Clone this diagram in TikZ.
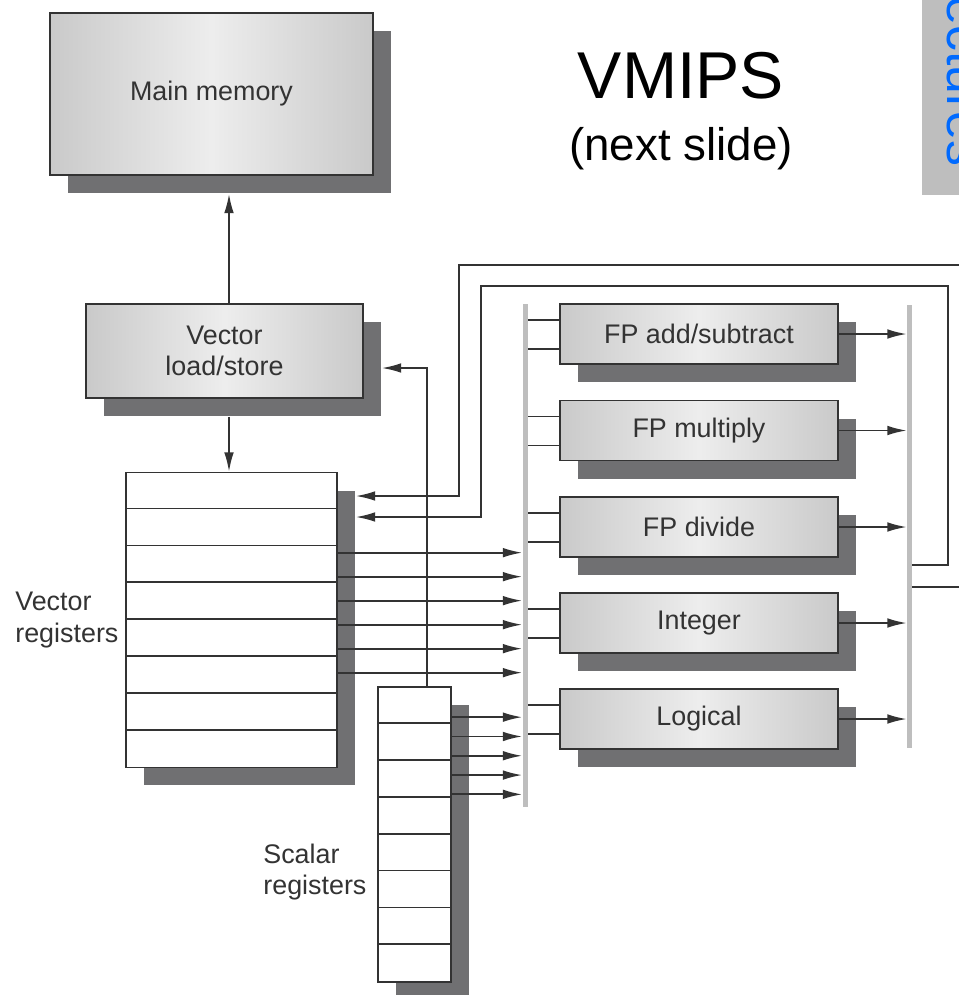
\documentclass[tikz,border=0pt]{standalone}
\usepackage{fontspec}
\setmainfont{Liberation Sans}
\usetikzlibrary{arrows.meta,positioning,shadows,calc}
\definecolor{shadowgray}{RGB}{112,112,114}
\definecolor{linegray}{RGB}{51,51,51}
\definecolor{busgray}{RGB}{190,190,190}
\definecolor{slideblue}{RGB}{0,106,255}

\begin{document}
\begin{tikzpicture}[x={(0.02cm,0)},y={(0,-0.02cm)}]
\tikzset{unit/.style = {draw=linegray,line width=1pt,left color=black!21,right color=black!21,middle color=black!7,
  text=linegray,font=\fontsize{15.3}{18}\selectfont,align=center,inner sep=0,
  drop shadow={shadow xshift=.36cm,shadow yshift=-.36cm,fill=shadowgray,opacity=1}}}
\tikzset{regfile/.style = {draw=linegray,line width=1pt,fill=white,inner sep=0,
  drop shadow={shadow xshift=.36cm,shadow yshift=-.36cm,fill=shadowgray,opacity=1}}}
\tikzset{bus/.style = {fill=busgray,inner sep=0,minimum width=.1cm}}
\tikzset{lbl/.style = {text=linegray,font=\fontsize{15.3}{18}\selectfont,align=left,inner sep=0,anchor=west}}
\tikzset{wire/.style = {draw=linegray,line width=1pt}}
\tikzset{edge/.style = {wire,-{Latex[length=11pt,width=5.5pt]}}}
\useasboundingbox (0,0) rectangle (958,995);
% SLIDE
\fill[busgray] (922,0) rectangle (975,195);
\node[rotate=-90,anchor=base east,inner sep=0,text=slideblue,font=\fontsize{29.5}{30}\selectfont] (sidetitle) at (947,167) {Architectures};
\node[font=\fontsize{37.7}{40}\selectfont] (title) at (681,76) {VMIPS};
\node[font=\fontsize{26}{28}\selectfont] (subtitle) at (681,149) {(next slide)};
% NODES
\node[unit,minimum width=6.46cm,minimum height=3.24cm] (mainmem) at (211.5,94) {Main memory};
\node[unit,minimum width=5.54cm,minimum height=1.88cm] (vls) at (224.5,351) {Vector\\load/store};
\node[regfile,minimum width=4.22cm,minimum height=5.9cm] (vreg) at (231.5,620) {};
\node[regfile,minimum width=1.46cm,minimum height=5.9cm] (sreg) at (414.5,834.5) {};
\node[lbl] (vreglbl) at (15,620) {Vector\\registers};
\node[lbl] (sreglbl) at (263,872) {Scalar\\registers};
\node[bus,minimum height=10.06cm] (lbus) at (525,555.5) {};
\node[bus,minimum height=8.86cm] (rbus) at (909.5,526.5) {};
\node[unit,minimum width=5.56cm,minimum height=1.2cm] (fpadd) at (699,334) {FP add/subtract};
\node[unit,minimum width=5.56cm,minimum height=1.2cm] (fpmul) at (699,430.5) {FP multiply};
\node[unit,minimum width=5.56cm,minimum height=1.2cm] (fpdiv) at (699,527) {FP divide};
\node[unit,minimum width=5.56cm,minimum height=1.2cm] (intu) at (699,623) {Integer};
\node[unit,minimum width=5.56cm,minimum height=1.2cm] (logic) at (699,719) {Logical};
% REGISTER ROWS
\foreach \i in {1,...,7}{
  \draw[wire] ($(vreg.north west)+(0,\i*36.875)$) -- ($(vreg.north east)+(0,\i*36.875)$);
  \draw[wire] ($(sreg.north west)+(0,\i*36.875)$) -- ($(sreg.north east)+(0,\i*36.875)$);
}
% EDGES
\coordinate (lsx) at (229,0);
\coordinate (mmin) at ([yshift=-.36cm]mainmem.south);
\coordinate (vlsout) at ([yshift=-.36cm]vls.south);
\coordinate (vlsin) at ([xshift=.36cm]vls.east);
\coordinate (vregin) at ([xshift=.36cm]vreg.east);
\coordinate (outa) at (975,265);
\coordinate (outb) at (975,587);
\draw[edge] (vls.north -| lsx) -- (mmin -| lsx);
\draw[edge] (vlsout -| lsx) -- (vreg.north -| lsx);
\draw[edge] (sreg.north -| 427,0) |- (vlsin |- 0,368);
\draw[edge] (outa) -| (459,496) -- (vregin |- 0,496);
\draw[edge] (rbus.east |- 0,565) -- (948,565) |- (481,286) |- (vregin |- 0,517);
\draw[wire] (rbus.east |- 0,587) -- (outb);

\foreach \i in {0,...,5}{
  \coordinate (vo\i) at ($(vreg.north east)+(0,81+24*\i)$);
  \draw[edge] (vo\i) -- (lbus.west |- vo\i);
}
\foreach \i in {0,...,4}{
  \coordinate (so\i) at ($(sreg.north east)+(0,31+19.3*\i)$);
  \draw[edge] (so\i) -- (lbus.west |- so\i);
}
\foreach \u in {fpadd,fpmul,fpdiv,intu,logic}{
  \coordinate (\u-a) at ([yshift=.28cm]\u.west);
  \coordinate (\u-b) at ([yshift=-.3cm]\u.west);
  \draw[wire] (\u-a) -- (lbus.east |- \u-a);
  \draw[wire] (\u-b) -- (lbus.east |- \u-b);
  \draw[edge] (\u.east) -- (rbus.west |- \u.east);
}
\end{tikzpicture}
\end{document}
